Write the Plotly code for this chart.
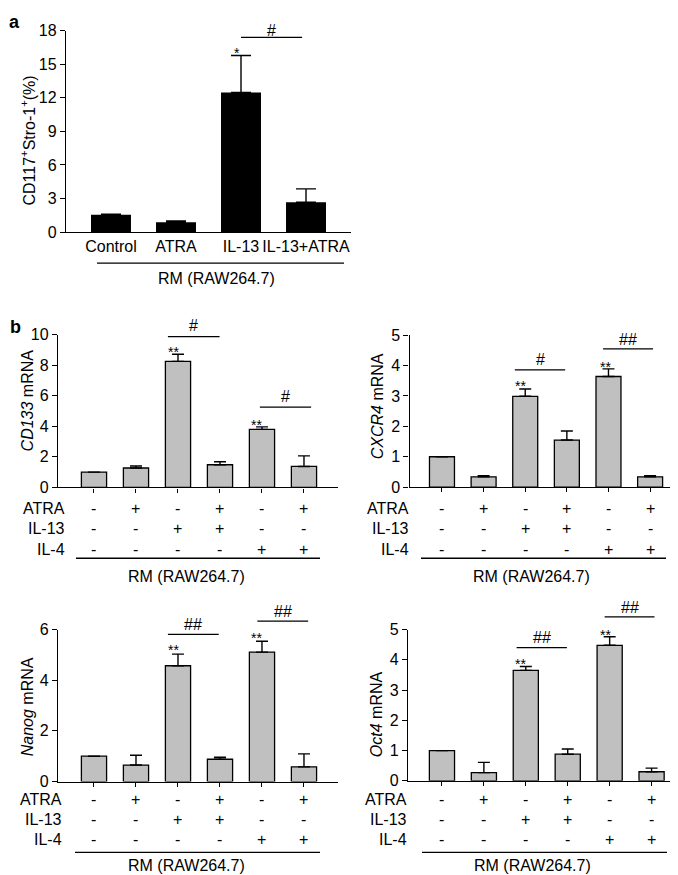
import plotly.graph_objects as go

W, H = 678, 875
FONT = "Liberation Sans, Arial, sans-serif"

# ---------------- data ----------------
# panel a
a_categories = ["Control", "ATRA", "IL-13", "IL-13+ATRA"]
a_values = [1.55, 0.88, 12.47, 2.66]
a_errors = [0.05, 0.11, 3.31, 1.20]

# panel b : treatment grid
b_rows = ["ATRA", "IL-13", "IL-4"]
b_atra = ["-", "+", "-", "+", "-", "+"]
b_il13 = ["-", "-", "+", "+", "-", "-"]
b_il4 = ["-", "-", "-", "-", "+", "+"]
b_groups = [0, 1, 2, 3, 4, 5]

cd133_values = [1.00, 1.27, 8.25, 1.48, 3.80, 1.37]
cd133_errors = [0.00, 0.13, 0.47, 0.20, 0.16, 0.69]
cxcr4_values = [1.00, 0.34, 2.99, 1.55, 3.64, 0.34]
cxcr4_errors = [0.00, 0.04, 0.24, 0.30, 0.25, 0.04]
nanog_values = [1.00, 0.65, 4.57, 0.88, 5.11, 0.58]
nanog_errors = [0.00, 0.39, 0.46, 0.08, 0.43, 0.51]
oct4_values = [1.00, 0.27, 3.65, 0.88, 4.48, 0.30]
oct4_errors = [0.00, 0.34, 0.13, 0.17, 0.28, 0.12]

group_label = "RM (RAW264.7)"

# ---------------- helpers ----------------
def fx(p):
    return p / W


def fy(p):
    return 1 - p / H


fig = go.Figure()
annotations = []
shapes = []


def note(text, x, y, size=16, xref="paper", yref="paper", xanchor="center", **kw):
    annotations.append(dict(text=text, xref=xref, yref=yref, x=x, y=y, showarrow=False,
                            xanchor=xanchor, yanchor="middle",
                            font=dict(size=size, family=FONT, color="black"), **kw))


AX = dict(showgrid=False, zeroline=False, showline=True, linecolor="black",
          linewidth=1.3, fixedrange=True, tickcolor="black", tickwidth=1.2)

# ---------------- panel a ----------------
pa = dict(xd=(58, 343), yd=(15, 220.3), xr=(-0.692, 3.692), yr=(0, 18))
fig.add_trace(go.Bar(
    x=a_categories, y=a_values, width=0.615,
    marker=dict(color="black", line=dict(width=0)),
    error_y=dict(type="data", array=a_errors, arrayminus=[0] * len(a_errors),
                 symmetric=False, color="black", thickness=1.4, width=10),
    xaxis="x", yaxis="y", showlegend=False, hoverinfo="skip"))

layout_axes = {}
layout_axes["xaxis"] = dict(AX, domain=[fx(pa["xd"][0]), fx(pa["xd"][1])], range=list(pa["xr"]),
                            type="category", ticks="", anchor="y",
                            tickfont=dict(size=16, family=FONT, color="black"))
layout_axes["yaxis"] = dict(AX, domain=[fy(pa["yd"][1]), fy(pa["yd"][0])], range=list(pa["yr"]),
                            dtick=3, ticks="outside", ticklen=5, anchor="x",
                            tickfont=dict(size=16, family=FONT, color="black"))


def to_paper(p, xv, yv):
    x0, x1 = p["xd"]
    y0, y1 = p["yd"]
    r0, r1 = p["xr"]
    s0, s1 = p["yr"]
    px = x0 + (xv - r0) / (r1 - r0) * (x1 - x0)
    py = y1 - (yv - s0) / (s1 - s0) * (y1 - y0)
    return fx(px), fy(py)


def sig_line(p, x0, x1, y, label, ly):
    a0 = to_paper(p, x0, y)
    a1 = to_paper(p, x1, y)
    shapes.append(dict(type="line", xref="paper", yref="paper", x0=a0[0], x1=a1[0],
                       y0=a0[1], y1=a1[1], line=dict(color="black", width=1.3)))
    lx, lyp = to_paper(p, (x0 + x1) / 2, ly)
    note(label, lx, lyp, size=16)


def star(p, xv, yv, label):
    sx, sy = to_paper(p, xv, yv)
    note(label, sx, sy, size=14, yshift=-4)


star(pa, 1.94, 16.33, "*")
sig_line(pa, 2.0, 2.94, 17.4, "#", 18.0)

note("CD117<sup>+</sup>Stro-1<sup>+</sup>(%)", fx(20), fy(127), textangle=-90)
shapes.append(dict(type="line", xref="paper", yref="paper", x0=fx(89), x1=fx(336),
                   y0=fy(252), y1=fy(252), line=dict(color="black", width=1.3)))
note(group_label, fx(208), fy(268))
note("<b>a</b>", fx(6), fy(6), size=18)
note("<b>b</b>", fx(7), fy(317), size=18)

# ---------------- panel b ----------------
panels_b = [
    dict(n=2, values=cd133_values, errors=cd133_errors, title="<i>CD133</i> mRNA",
         xd=(50, 330), yd=(325, 480.7), xr=(-0.857, 5.81), yr=(0, 10), dtick=2,
         tx=19, ty=392, rowx=59, rowy=(502, 523, 544), uline=(68, 312, 553), rm=(178, 572),
         stars=[(1.9, 9.1), (3.88, 4.37)],
         sigs=[(1.76, 2.99, 9.87, "#", 10.6), (3.95, 5.17, 5.26, "#", 5.92)]),
    dict(n=3, values=cxcr4_values, errors=cxcr4_errors, title="<i>CXCR4</i> mRNA",
         xd=(401.5, 675), yd=(325.5, 480.5), xr=(-0.78, 5.79), yr=(0, 5), dtick=1,
         tx=369, ty=398, rowx=403, rowy=(502, 523, 544), uline=(413, 658, 553), rm=(523, 572),
         stars=[(1.875, 3.47), (3.93, 4.1)],
         sigs=[(1.75, 2.96, 3.86, "#", 4.2), (3.87, 5.07, 4.55, "##", 4.86)]),
    dict(n=4, values=nanog_values, errors=nanog_errors, title="<i>Nanog</i> mRNA",
         xd=(50, 330), yd=(625.7, 780.7), xr=(-0.857, 5.81), yr=(0, 6), dtick=2,
         tx=19, ty=705, rowx=56, rowy=(799, 819, 840), uline=(67, 312, 853), rm=(178, 866),
         stars=[(1.9, 5.36), (3.88, 5.82)],
         sigs=[(1.76, 2.97, 5.81, "##", 6.19), (3.89, 5.1, 6.33, "##", 6.72)]),
    dict(n=5, values=oct4_values, errors=oct4_errors, title="<i>Oct4</i> mRNA",
         xd=(400, 676.7), yd=(625.7, 780), xr=(-0.81, 5.79), yr=(0, 5), dtick=1,
         tx=368, ty=712, rowx=401, rowy=(799, 819, 840), uline=(414, 659, 853), rm=(524, 866),
         stars=[(1.88, 3.98), (3.91, 4.95)],
         sigs=[(1.78, 2.98, 4.4, "##", 4.73), (3.88, 5.07, 5.42, "##", 5.72)]),
]

for p in panels_b:
    n = p["n"]
    xa, ya = f"x{n}", f"y{n}"
    fig.add_trace(go.Bar(
        x=b_groups, y=p["values"], width=0.6,
        marker=dict(color="#c0c0c0", line=dict(color="black", width=1.3)),
        error_y=dict(type="data", array=p["errors"], arrayminus=[0] * len(p["errors"]),
                     symmetric=False, color="black", thickness=1.4, width=6),
        xaxis=xa, yaxis=ya, showlegend=False, hoverinfo="skip"))
    layout_axes[f"xaxis{n}"] = dict(AX, domain=[fx(p["xd"][0]), fx(p["xd"][1])], range=list(p["xr"]),
                                    tickvals=b_groups, ticks="outside", ticklen=4,
                                    showticklabels=False, anchor=ya)
    layout_axes[f"yaxis{n}"] = dict(AX, domain=[fy(p["yd"][1]), fy(p["yd"][0])], range=list(p["yr"]),
                                    dtick=p["dtick"], ticks="outside", ticklen=5, anchor=xa,
                                    tickfont=dict(size=16, family=FONT, color="black"))
    note(p["title"], fx(p["tx"]), fy(p["ty"]), textangle=-90)
    for row_name, signs, ry in zip(b_rows, [b_atra, b_il13, b_il4], p["rowy"]):
        note(row_name, fx(p["rowx"]), fy(ry), xanchor="right")
        for g, s in zip(b_groups, signs):
            note(s, g, fy(ry), xref=xa)
    x0, x1, uy = p["uline"]
    shapes.append(dict(type="line", xref="paper", yref="paper", x0=fx(x0), x1=fx(x1),
                       y0=fy(uy), y1=fy(uy), line=dict(color="black", width=1.3)))
    note(group_label, fx(p["rm"][0]), fy(p["rm"][1]))
    for sx, sy in p["stars"]:
        star(p, sx, sy, "**")
    for s0, s1, sy, lab, ly in p["sigs"]:
        sig_line(p, s0, s1, sy, lab, ly)

fig.update_layout(
    width=W, height=H, margin=dict(l=0, r=0, t=0, b=0),
    paper_bgcolor="white", plot_bgcolor="white",
    font=dict(family=FONT, color="black"),
    annotations=annotations, shapes=shapes, **layout_axes)

fig.write_html("out.html")
